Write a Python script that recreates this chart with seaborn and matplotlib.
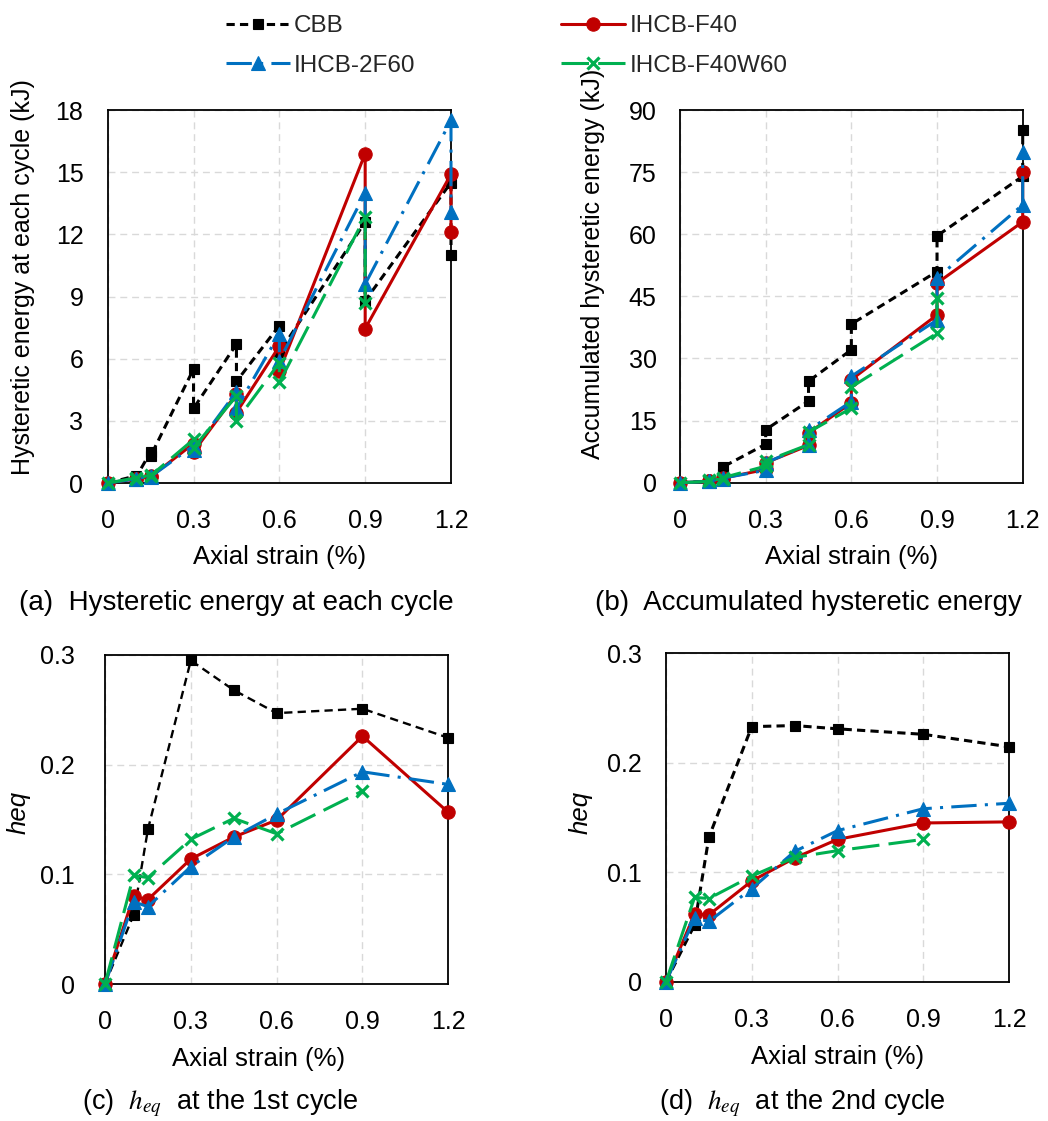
import matplotlib
matplotlib.use("Agg")
import matplotlib.pyplot as plt
import seaborn as sns

sns.set_theme(style="white")
plt.rcParams["font.family"] = ["Liberation Sans", "DejaVu Sans"]
plt.rcParams["mathtext.fontset"] = "stix"

# ---------------------------------------------------------------- data
specimens = ["CBB", "IHCB-F40", "IHCB-2F60", "IHCB-F40W60"]

# axial strain (%) of every loading cycle (two cycles per amplitude)
strain_cycles = [0, 0.1, 0.1, 0.15, 0.15, 0.3, 0.3, 0.45, 0.45,
                 0.6, 0.6, 0.9, 0.9, 1.2, 1.2]
# axial strain (%) of each amplitude
strain_levels = [0, 0.1, 0.15, 0.3, 0.45, 0.6, 0.9, 1.2]

# hysteretic energy dissipated in each cycle (kJ)
cycle_energy_cbb = [0, 0.35, 0.3, 1.5, 1.3, 5.5, 3.6, 6.7, 4.9, 7.6, 6.3, 12.6, 8.8, 14.5, 11.0]
cycle_energy_f40 = [0, 0.2, 0.2, 0.35, 0.3, 1.9, 1.5, 4.3, 3.4, 6.6, 5.4, 15.9, 7.45, 14.9, 12.1]
cycle_energy_2f60 = [0, 0.2, 0.2, 0.35, 0.3, 1.8, 1.6, 4.4, 3.6, 7.2, 5.9, 14.0, 9.6, 17.5, 13.1]
cycle_energy_f40w60 = [0, 0.25, 0.2, 0.4, 0.35, 2.1, 1.7, 4.2, 3.0, 5.8, 4.85, 12.85, 8.7]

# accumulated hysteretic energy (kJ)
accum_energy_cbb = [0, 0.4, 0.7, 2.2, 3.8, 9.3, 12.8, 19.7, 24.5, 32.1, 38.3, 51.0, 59.6, 74.0, 85.1]
accum_energy_f40 = [0, 0.3, 0.5, 0.8, 1.1, 3.2, 4.8, 9.0, 12.0, 19.3, 24.9, 40.5, 48.2, 63.0, 75.1]
accum_energy_2f60 = [0, 0.3, 0.5, 0.8, 1.1, 3.0, 4.8, 9.2, 12.7, 19.6, 25.7, 39.3, 49.4, 67.1, 79.9]
accum_energy_f40w60 = [0, 0.3, 0.6, 0.9, 1.2, 4.0, 5.2, 9.2, 12.2, 18.0, 23.1, 36.1, 44.6]

# equivalent damping ratio, 1st cycle
heq1_cbb = [0, 0.063, 0.141, 0.295, 0.268, 0.247, 0.251, 0.2245]
heq1_f40 = [0, 0.080, 0.077, 0.114, 0.134, 0.1495, 0.226, 0.1565]
heq1_2f60 = [0, 0.075, 0.0705, 0.107, 0.134, 0.155, 0.1935, 0.182]
heq1_f40w60 = [0, 0.099, 0.097, 0.132, 0.151, 0.137, 0.176]

# equivalent damping ratio, 2nd cycle
heq2_cbb = [0, 0.052, 0.132, 0.233, 0.234, 0.231, 0.226, 0.2146]
heq2_f40 = [0, 0.062, 0.061, 0.092, 0.113, 0.130, 0.145, 0.146]
heq2_2f60 = [0, 0.058, 0.055, 0.085, 0.119, 0.138, 0.158, 0.163]
heq2_f40w60 = [0, 0.077, 0.076, 0.0965, 0.1135, 0.1197, 0.130]

x_ticks = [0, 0.3, 0.6, 0.9, 1.2]
x_tick_labels = ["0", "0.3", "0.6", "0.9", "1.2"]

# ---------------------------------------------------------------- styles
styles = {
    "CBB": dict(color="#000000", marker="s", markersize=7.2, dash=(2.7, 1.7)),
    "IHCB-F40": dict(color="#C00000", marker="o", markersize=9.6, dash=None),
    "IHCB-2F60": dict(color="#0070C0", marker="^", markersize=9.8, dash=(8.3, 2.7, 1, 2.7)),
    "IHCB-F40W60": dict(color="#00B050", marker="x", markersize=8.8, dash=(9, 3)),
}

fig = plt.figure(figsize=(10.48, 11.21), dpi=100)

W, H = 1048.0, 1121.0


def make_axes(left, top, right, bottom):
    return fig.add_axes([left / W, 1 - bottom / H, (right - left) / W, (bottom - top) / H])


ax_a = make_axes(107.7, 110, 451, 483)
ax_b = make_axes(680, 110, 1022.7, 482.7)
ax_c = make_axes(105, 655, 448.3, 984)
ax_d = make_axes(666, 653.3, 1009, 981.7)


def draw(ax, x, y, name, lw=2.2, dash=None):
    st = styles[name]
    d = st["dash"] if dash is None else dash
    ls = "-" if d is None else (0, d)
    mew = 2.3 if st["marker"] == "x" else 0.8
    sns.lineplot(x=x[:len(y)], y=y, ax=ax, estimator=None, sort=False,
                 color=st["color"], marker=st["marker"], markersize=st["markersize"],
                 markeredgecolor=st["color"], markerfacecolor=st["color"],
                 markeredgewidth=mew, linestyle=ls, linewidth=lw,
                 label=name, legend=False, clip_on=False, zorder=3)


series_a = [cycle_energy_cbb, cycle_energy_f40, cycle_energy_2f60, cycle_energy_f40w60]
series_b = [accum_energy_cbb, accum_energy_f40, accum_energy_2f60, accum_energy_f40w60]
series_c = [heq1_cbb, heq1_f40, heq1_2f60, heq1_f40w60]
series_d = [heq2_cbb, heq2_f40, heq2_2f60, heq2_f40w60]

for name, y in zip(specimens, series_a):
    draw(ax_a, strain_cycles, y, name)
for name, y in zip(specimens, series_b):
    draw(ax_b, strain_cycles, y, name)
for name, y in zip(specimens, series_c):
    if name == "CBB":
        draw(ax_c, strain_levels, y, name, lw=1.7, dash=(3.5, 2.2))
    else:
        draw(ax_c, strain_levels, y, name)
for name, y in zip(specimens, series_d):
    draw(ax_d, strain_levels, y, name)


def style_axes(ax, ylim, yticks, ylabels, ypad, ylabel, ylab_xy, xlab_xy, italic=False):
    ax.set_xlim(0, 1.2)
    ax.set_ylim(*ylim)
    ax.set_xticks(x_ticks)
    ax.set_xticklabels(x_tick_labels)
    ax.set_yticks(yticks)
    ax.set_yticklabels(ylabels)
    ax.tick_params(axis="x", length=0, pad=19, labelsize=18, colors="#000000")
    ax.tick_params(axis="y", length=0, pad=ypad, labelsize=18, colors="#000000")
    ax.grid(True, color="#D9D9D9", linestyle=(0, (5, 3.5)), linewidth=1.0, zorder=0)
    ax.set_axisbelow(True)
    for sp in ax.spines.values():
        sp.set_color("#000000")
        sp.set_linewidth(1.3)
        sp.set_visible(True)
        sp.set_zorder(2)
    ax.set_xlabel("Axial strain (%)", fontsize=18.5, color="#000000")
    ax.xaxis.set_label_coords(*xlab_xy)
    ax.set_ylabel(ylabel, fontsize=18 if not italic else 18.5, color="#000000",
                  fontstyle="italic" if italic else "normal")
    ax.yaxis.set_label_coords(*ylab_xy)
    if ax.get_legend() is not None:
        ax.get_legend().remove()


style_axes(ax_a, (0, 18), [0, 3, 6, 9, 12, 15, 18], ["0", "3", "6", "9", "12", "15", "18"],
           17.5, "Hysteretic energy at each cycle (kJ)", (-0.212, 0.551), (0.5, -0.167))
style_axes(ax_b, (0, 90), [0, 15, 30, 45, 60, 75, 90], ["0", "15", "30", "45", "60", "75", "90"],
           16.8, "Accumulated hysteretic energy (kJ)", (-0.22, 0.588), (0.5, -0.167))
style_axes(ax_c, (0, 0.3), [0, 0.1, 0.2, 0.3], ["0", "0.1", "0.2", "0.3"],
           21.5, "heq", (-0.218, 0.52), (0.446, -0.191), italic=True)
style_axes(ax_d, (0, 0.3), [0, 0.1, 0.2, 0.3], ["0", "0.1", "0.2", "0.3"],
           17.5, "heq", (-0.213, 0.514), (0.5, -0.193), italic=True)

# shared legend in two columns above the panels
handles, labels = ax_a.get_legend_handles_labels()
order = [0, 2, 1, 3]
fig.legend([handles[i] for i in order], [labels[i] for i in order],
           loc="upper left", bbox_to_anchor=(226 / W, 1 - 15 / H), ncol=2,
           frameon=False, fontsize=17.5, handlelength=2.63, handletextpad=0.17,
           columnspacing=6.0, labelspacing=0.72, borderpad=0, borderaxespad=0)

# panel captions
cap_kw = dict(ha="center", va="center", fontsize=20, color="#000000")
fig.text(236 / W, 1 - 603 / H, "(a)  Hysteretic energy at each cycle", **cap_kw)
fig.text(808 / W, 1 - 603 / H, "(b)  Accumulated hysteretic energy", **cap_kw)
fig.text(220 / W, 1 - 1103 / H, "(c)  $h_{eq}$  at the 1st cycle", fontsize=19.5,
         ha="center", va="center", color="#000000")
fig.text(802 / W, 1 - 1103 / H, "(d)  $h_{eq}$  at the 2nd cycle", fontsize=19.5,
         ha="center", va="center", color="#000000")

fig.savefig("out.png", dpi=100, facecolor="white")
